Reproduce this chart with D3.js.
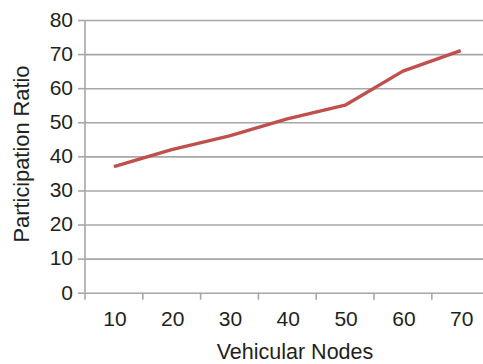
<!DOCTYPE html>
<html>
<head>
<meta charset="utf-8">
<script src="https://cdn.jsdelivr.net/npm/d3@7"></script>
<style>
  html, body { margin: 0; padding: 0; background: #fff; overflow: hidden; }
  text { font-family: "Liberation Sans", Arial, sans-serif; fill: #231f20; }
</style>
</head>
<body>
<svg id="chart" width="483" height="364"></svg>
<script>
// data
const nodes = ['10', '20', '30', '40', '50', '60', '70'];
const ratio = [37, 42, 46, 51, 55, 65, 71];
const yTicks = [0, 10, 20, 30, 40, 50, 60, 70, 80];

// layout
const M = { top: 20, left: 85 };
const IW = 404.6, IH = 272.7;
const gridColor = '#a7a7a7';
const FS = 21;

const svg = d3.select('#chart');
const g = svg.append('g').attr('transform', `translate(${M.left},${M.top})`);

const x = d3.scaleBand().domain(nodes).range([0, IW]);
const y = d3.scaleLinear().domain([0, 80]).range([IH, 0]);

// horizontal gridlines + y axis
const yAxis = g.append('g')
  .call(d3.axisLeft(y).tickValues(yTicks).tickSize(7).tickPadding(5));
yAxis.select('.domain').remove();
yAxis.selectAll('.tick line').attr('stroke', gridColor).attr('stroke-width', 1.6);
yAxis.selectAll('.tick text').attr('font-size', FS).attr('dy', '0.3em');
yAxis.selectAll('.tick').append('line')
  .attr('x1', 0).attr('x2', IW)
  .attr('stroke', gridColor).attr('stroke-width', 1.6);

// vertical axis line
g.append('line')
  .attr('x1', 0).attr('x2', 0).attr('y1', 0).attr('y2', IH)
  .attr('stroke', gridColor).attr('stroke-width', 1.6);

// x axis: ticks between categories
const xg = g.append('g').attr('transform', `translate(0,${IH})`);
xg.selectAll('line.sep')
  .data(d3.range(nodes.length + 1))
  .join('line')
  .attr('class', 'sep')
  .attr('x1', i => i * x.step()).attr('x2', i => i * x.step())
  .attr('y1', 0).attr('y2', 7)
  .attr('stroke', gridColor).attr('stroke-width', 1.6);
xg.selectAll('text.lbl')
  .data(nodes)
  .join('text')
  .attr('class', 'lbl')
  .attr('x', d => x(d) + x.bandwidth() / 2 + 1)
  .attr('y', 33.3)
  .attr('text-anchor', 'middle')
  .attr('font-size', FS)
  .text(d => d);

// line
const line = d3.line()
  .x((d, i) => x(nodes[i]) + x.bandwidth() / 2)
  .y(d => y(d));
g.append('path')
  .attr('fill', 'none')
  .attr('stroke', '#c0504d')
  .attr('stroke-width', 3.4)
  .attr('stroke-linejoin', 'round')
  .attr('d', line(ratio));

// axis titles
svg.append('text')
  .attr('x', 295).attr('y', 358.5)
  .attr('text-anchor', 'middle')
  .attr('font-size', 21.5)
  .text('Vehicular Nodes');
svg.append('text')
  .attr('transform', 'translate(28.5,154) rotate(-90)')
  .attr('text-anchor', 'middle')
  .attr('font-size', 21.8)
  .text('Participation Ratio');
</script>
</body>
</html>
